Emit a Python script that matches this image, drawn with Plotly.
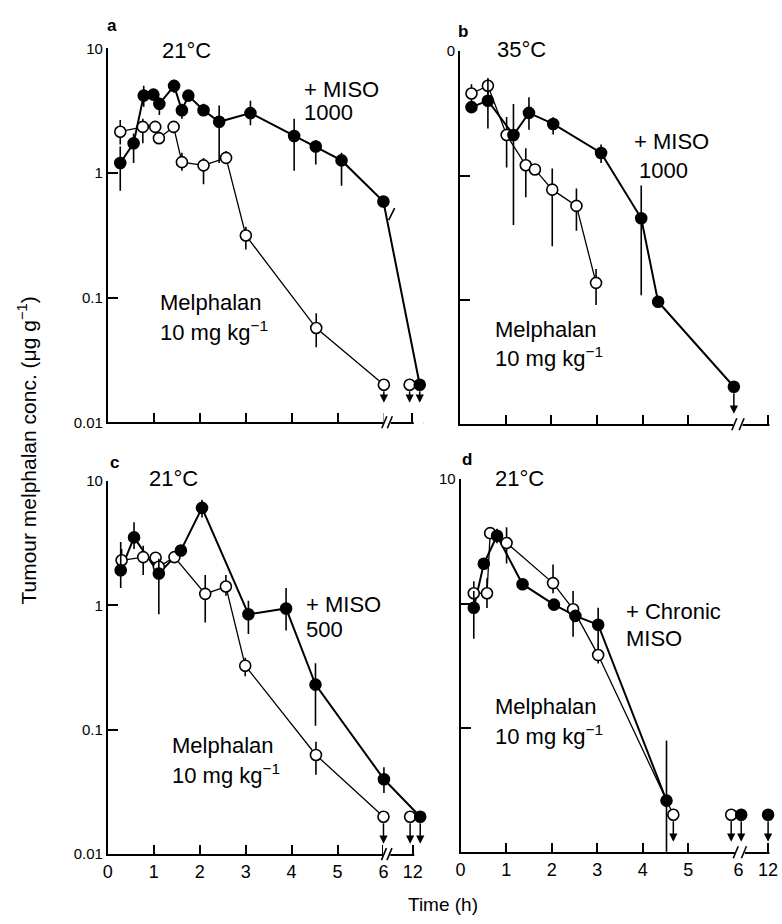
import math
import plotly.graph_objects as go

W, H = 782, 924

# ---------------- data ----------------
# Panel a : 21 °C, melphalan 10 mg/kg alone (open) vs + MISO 1000 (filled)
a_open_t = [0.27, 0.76, 1.03, 1.11, 1.43, 1.61, 2.08, 2.57, 3.0, 4.53, 6.0, 12]
a_open_v = [2.14, 2.34, 2.34, 1.9, 2.34, 1.22, 1.15, 1.32, 0.315, 0.057, 0.02, 0.02]
a_open_hi = [2.66, 2.72, 2.5, 1.9, 2.57, 1.45, 1.32, 1.5, 0.37, 0.075, 0.02, 0.02]
a_open_lo = [1.69, 1.73, 2.2, 1.9, 2.08, 1.04, 0.81, 1.2, 0.243, 0.04, 0.02, 0.02]
a_open_below = [10, 11]
a_open_line_to = 10
a_fill_t = [0.27, 0.56, 0.78, 0.99, 1.12, 1.44, 1.61, 1.75, 2.08, 2.42, 3.1, 4.05, 4.52, 5.08, 5.99, 12]
a_fill_v = [1.2, 1.73, 4.17, 4.25, 3.58, 4.99, 3.18, 4.17, 3.18, 2.57, 3.02, 1.98, 1.63, 1.26, 0.59, 0.02]
a_fill_hi = [1.63, 2.07, 5.0, 4.6, 4.03, 5.6, 3.58, 4.5, 3.58, 3.47, 3.8, 2.72, 1.84, 1.45, 0.65, 0.02]
a_fill_lo = [0.72, 1.2, 3.4, 4.0, 2.92, 4.4, 2.72, 3.9, 2.9, 1.2, 2.41, 1.04, 1.17, 0.79, 0.53, 0.02]
a_fill_below = [15]
a_fill_line_to = 15

# Panel b : 35 °C, + MISO 1000
b_open_t = [0.25, 0.61, 1.02, 1.44, 1.64, 2.02, 2.55, 2.98]
b_open_v = [4.57, 5.27, 2.12, 1.21, 1.12, 0.77, 0.57, 0.137]
b_open_hi = [5.42, 5.93, 2.96, 1.66, 1.2, 1.14, 0.785, 0.177]
b_open_lo = [3.77, 4.52, 1.16, 0.67, 1.05, 0.27, 0.36, 0.091]
b_open_below = []
b_open_line_to = 7
b_fill_t = [0.25, 0.61, 1.17, 1.51, 2.04, 3.09, 3.97, 4.34, 6.0]
b_fill_v = [3.55, 4.0, 2.12, 3.19, 2.6, 1.52, 0.453, 0.0966, 0.02]
b_fill_hi = [3.7, 6.1, 3.77, 4.27, 2.95, 1.78, 0.83, 0.0966, 0.02]
b_fill_lo = [3.4, 2.39, 0.40, 2.34, 2.14, 1.26, 0.109, 0.0966, 0.02]
b_fill_below = [8]
b_fill_line_to = 8

# Panel c : 21 °C, + MISO 500
c_open_t = [0.3, 0.77, 1.04, 1.11, 1.45, 2.12, 2.57, 2.99, 4.53, 6.0, 12]
c_open_v = [2.31, 2.45, 2.42, 2.05, 2.45, 1.24, 1.42, 0.328, 0.0628, 0.02, 0.02]
c_open_hi = [2.85, 3.03, 2.6, 2.05, 2.7, 1.76, 1.76, 0.38, 0.08, 0.02, 0.02]
c_open_lo = [1.81, 1.76, 2.2, 2.05, 2.2, 0.73, 1.2, 0.27, 0.0436, 0.02, 0.02]
c_open_below = [9, 10]
c_open_line_to = 9
c_fill_t = [0.28, 0.57, 1.11, 1.59, 2.05, 3.06, 3.88, 4.52, 6.01, 12]
c_fill_v = [1.92, 3.53, 1.81, 2.77, 6.1, 0.85, 0.946, 0.231, 0.04, 0.02]
c_fill_hi = [3.24, 4.67, 2.38, 2.9, 7.08, 1.09, 1.38, 0.343, 0.05, 0.02]
c_fill_lo = [1.38, 2.85, 0.85, 2.6, 5.1, 0.59, 0.63, 0.108, 0.031, 0.02]
c_fill_below = [9]
c_fill_line_to = 9

# Panel d : 21 °C, + chronic MISO
d_open_t = [0.29, 0.58, 0.65, 1.01, 2.03, 2.47, 3.02, 4.67, 6]
d_open_v = [1.21, 1.21, 3.68, 3.07, 1.46, 0.9, 0.385, 0.02, 0.02]
d_open_hi = [1.51, 1.6, 3.9, 4.1, 2.06, 1.26, 0.46, 0.02, 0.02]
d_open_lo = [0.98, 0.92, 3.5, 2.1, 1.21, 0.54, 0.33, 0.02, 0.02]
d_open_below = [7, 8]
d_open_line_to = 7
d_fill_t = [0.29, 0.51, 0.8, 1.36, 2.05, 2.52, 3.02, 4.52, 6, 12]
d_fill_v = [0.925, 2.09, 3.51, 1.43, 0.98, 0.795, 0.675, 0.026, 0.02, 0.02]
d_fill_hi = [1.26, 2.3, 4.0, 1.55, 1.05, 0.86, 0.925, 0.079, 0.02, 0.02]
d_fill_lo = [0.52, 1.9, 3.05, 1.3, 0.9, 0.74, 0.45, 0.0101, 0.02, 0.02]
d_fill_below = [8, 9]
d_fill_line_to = 7

x_tick_labels = ["0", "1", "2", "3", "4", "5", "6", "12"]
y_tick_vals = [0.01, 0.1, 1, 10]
y_tick_labels = ["0.01", "0.1", "1", "10"]

panel_letters = ["a", "b", "c", "d"]
panel_temps = ["21°C", "35°C", "21°C", "21°C"]
panel_treat = [["+ MISO", "1000"], ["+ MISO", "1000"], ["+ MISO", "500"], ["+ Chronic", "MISO"]]
drug_label = ["Melphalan", "10 mg kg<sup>−1</sup>"]
y_title = "Tumour melphalan conc. (μg g<sup>−1</sup>)"
x_title = "Time (h)"

# ---------------- layout geometry (pixels) ----------------
FONT = "Liberation Sans, Arial, Helvetica, sans-serif"
EXT = 0.25  # room kept right of the 12 h tick (axis line hidden there)
geom = {
    "a": dict(x=(103.5, 410), y=(40, 421), pos12=6.62, brk=(5.99, 6.15), arrow=18,
              showx=False, yt=y_tick_labels),
    "b": dict(x=(458, 768), y=(43, 423), pos12=6.75, brk=(5.99, 6.19), arrow=27,
              showx=False, yt=["", "", "", "0"]),
    "c": dict(x=(103.5, 410.5), y=(481, 861), pos12=6.64, brk=(5.99, 6.15), arrow=27,
              showx=True, yt=y_tick_labels),
    "d": dict(x=(458.5, 768), y=(479, 859), pos12=6.75, brk=(6.02, 6.24), arrow=27,
              showx=True, yt=["", "", "", "10"]),
}
label6 = {"a": 6.0, "b": 6.08, "c": 6.0, "d": 6.1}

series = {
    "a": (dict(t=a_open_t, v=a_open_v, hi=a_open_hi, lo=a_open_lo, below=a_open_below, line_to=a_open_line_to),
          dict(t=a_fill_t, v=a_fill_v, hi=a_fill_hi, lo=a_fill_lo, below=a_fill_below, line_to=a_fill_line_to)),
    "b": (dict(t=b_open_t, v=b_open_v, hi=b_open_hi, lo=b_open_lo, below=b_open_below, line_to=b_open_line_to),
          dict(t=b_fill_t, v=b_fill_v, hi=b_fill_hi, lo=b_fill_lo, below=b_fill_below, line_to=b_fill_line_to)),
    "c": (dict(t=c_open_t, v=c_open_v, hi=c_open_hi, lo=c_open_lo, below=c_open_below, line_to=c_open_line_to),
          dict(t=c_fill_t, v=c_fill_v, hi=c_fill_hi, lo=c_fill_lo, below=c_fill_below, line_to=c_fill_line_to)),
    "d": (dict(t=d_open_t, v=d_open_v, hi=d_open_hi, lo=d_open_lo, below=d_open_below, line_to=d_open_line_to),
          dict(t=d_fill_t, v=d_fill_v, hi=d_fill_hi, lo=d_fill_lo, below=d_fill_below, line_to=d_fill_line_to)),
}
DODGE = (-0.06, 0.16)  # horizontal separation of coincident below-limit points (open, filled)


def px(x):
    return x / W


def py(y):
    return 1 - y / H


fig = go.Figure()
layout = dict(width=W, height=H, margin=dict(l=0, r=0, t=0, b=0, pad=0),
              paper_bgcolor="white", plot_bgcolor="white", showlegend=False,
              font=dict(family=FONT, color="black"))
annotations = []
shapes = []

for k, name in enumerate(["a", "b", "c", "d"]):
    g = geom[name]
    xs = "" if k == 0 else str(k + 1)
    xa, ya = "x" + xs, "y" + xs
    pph = (g["x"][1] - g["x"][0]) / g["pos12"]
    xdom = [px(g["x"][0]), px(g["x"][1] + EXT * pph)]
    ydom = [py(g["y"][1]), py(g["y"][0])]

    tickv = [0, 1, 2, 3, 4, 5, label6[name], g["pos12"]]
    layout["xaxis" + xs] = dict(
        domain=xdom, anchor=ya, range=[0, g["pos12"] + EXT], showgrid=False, zeroline=False,
        showline=True, linewidth=2, linecolor="black", ticks="inside", ticklen=9,
        tickwidth=2, tickcolor="black", tickvals=tickv, ticktext=x_tick_labels,
        showticklabels=g["showx"], tickfont=dict(size=18, family=FONT))
    layout["yaxis" + xs] = dict(
        domain=ydom, anchor=xa, type="log", range=[-2, 1], showgrid=False, zeroline=False,
        showline=True, linewidth=2, linecolor="black", ticks="inside", ticklen=10,
        tickwidth=2, tickcolor="black", tickvals=y_tick_vals, ticktext=g["yt"],
        tickfont=dict(size=15, family=FONT))

    open_s, fill_s = series[name]

    def positions(s, other, is_fill):
        out = []
        for i, t in enumerate(s["t"]):
            base = g["pos12"] if t >= 12 else t
            shared = (i in s["below"]) and any(
                other["t"][j] == t and j in other["below"] for j in range(len(other["t"])))
            if shared:
                base += DODGE[1] if is_fill else DODGE[0]
            out.append(base)
        return out

    op_x = positions(open_s, fill_s, False)
    fi_x = positions(fill_s, open_s, True)

    # connecting lines
    for s, xx, lw in ((open_s, op_x, 1.3), (fill_s, fi_x, 2.0)):
        n = s["line_to"] + 1
        fig.add_trace(go.Scatter(x=xx[:n], y=s["v"][:n], mode="lines",
                                 line=dict(color="black", width=lw),
                                 xaxis=xa, yaxis=ya, hoverinfo="skip", cliponaxis=False))
    # markers with error bars
    for s, xx, fillc in ((open_s, op_x, "white"), (fill_s, fi_x, "black")):
        up = [h - v for h, v in zip(s["hi"], s["v"])]
        dn = [v - l for l, v in zip(s["lo"], s["v"])]
        fig.add_trace(go.Scatter(
            x=xx, y=s["v"], mode="markers",
            marker=dict(symbol="circle", size=11, color=fillc, line=dict(color="black", width=1.6)),
            error_y=dict(type="data", symmetric=False, array=up, arrayminus=dn,
                         color="black", thickness=1.6, width=0),
            xaxis=xa, yaxis=ya, cliponaxis=False))
        # downward arrows for values below detection limit
        for i in s["below"]:
            L = g["arrow"]
            annotations.append(dict(
                x=xx[i], y=math.log10(s["v"][i]), xref=xa, yref=ya, text="",
                showarrow=True, ax=0, ay=-L, yshift=-L, startstandoff=5,
                arrowhead=2, arrowsize=1.1, arrowwidth=1.5, arrowcolor="black"))

    # hide the axis line beyond the 12 h tick
    shapes.append(dict(type="rect", xref=xa, yref="paper", x0=g["pos12"] + 0.03,
                       x1=g["pos12"] + EXT + 0.05, ysizemode="pixel", yanchor=ydom[0],
                       y0=-3, y1=3, fillcolor="white", line=dict(width=0), layer="above"))
    # axis break "//"
    b0, b1 = g["brk"]
    shapes.append(dict(type="rect", xref=xa, yref="paper", x0=b0, x1=b1,
                       ysizemode="pixel", yanchor=ydom[0], y0=-3, y1=11,
                       fillcolor="white", line=dict(width=0), layer="above"))
    for bx in (b0 + 0.02, b1 - 0.02):
        shapes.append(dict(type="line", xref=xa, yref="paper", xsizemode="pixel", xanchor=bx,
                           x0=-2.5, x1=2.5, ysizemode="pixel", yanchor=ydom[0], y0=-6, y1=6,
                           line=dict(color="black", width=1.6), layer="above"))

    # texts
    def txt(s, x, y, size=22, bold=False, anchor="left"):
        annotations.append(dict(text=("<b>%s</b>" % s) if bold else s, x=px(x), y=py(y),
                                xref="paper", yref="paper", xanchor=anchor, yanchor="middle",
                                showarrow=False, font=dict(size=size, family=FONT, color="black")))

    if name == "a":
        txt(panel_letters[0], 101, 17, 17, True)
        txt(panel_temps[0], 156, 42)
        txt(panel_treat[0][0], 299, 82)
        txt(panel_treat[0][1], 299, 105)
        txt(drug_label[0], 154, 299)
        txt(drug_label[1], 154, 328)
    elif name == "b":
        txt(panel_letters[1], 454, 23, 17, True)
        txt(panel_temps[1], 493, 41)
        txt(panel_treat[1][0], 631, 135)
        txt(panel_treat[1][1], 636, 165)
        txt(drug_label[0], 491, 326)
        txt(drug_label[1], 491, 355)
    elif name == "c":
        txt(panel_letters[2], 104, 462, 17, True)
        txt(panel_temps[2], 143, 478)
        txt(panel_treat[2][0], 301, 607)
        txt(panel_treat[2][1], 301, 632)
        txt(drug_label[0], 166, 750)
        txt(drug_label[1], 166, 779)
    else:
        txt(panel_letters[3], 458, 459, 17, True)
        txt(panel_temps[3], 491, 478)
        txt(panel_treat[3][0], 623, 614)
        txt(panel_treat[3][1], 623, 641)
        txt(drug_label[0], 491, 711)
        txt(drug_label[1], 491, 740)

# break mark on the + MISO line of panel a between 6 h and 12 h
shapes.append(dict(type="line", xref="x", yref="paper", xsizemode="pixel", xanchor=6.17,
                   x0=-3, x1=3, ysizemode="pixel", yanchor=py(209), y0=-6, y1=6,
                   line=dict(color="black", width=1.6), layer="above"))

# axis titles
annotations.append(dict(text=y_title, x=px(22), y=py(450), xref="paper", yref="paper",
                        textangle=-90, showarrow=False, xanchor="center", yanchor="middle",
                        font=dict(size=21, family=FONT, color="black")))
annotations.append(dict(text=x_title, x=px(441), y=py(912), xref="paper", yref="paper",
                        showarrow=False, xanchor="center", yanchor="middle",
                        font=dict(size=19, family=FONT, color="black")))

layout["annotations"] = annotations
layout["shapes"] = shapes
fig.update_layout(**layout)
fig.write_html("out.html", config={"displayModeBar": False},
               post_script="document.body.style.margin='0';document.body.style.overflow='hidden';")
